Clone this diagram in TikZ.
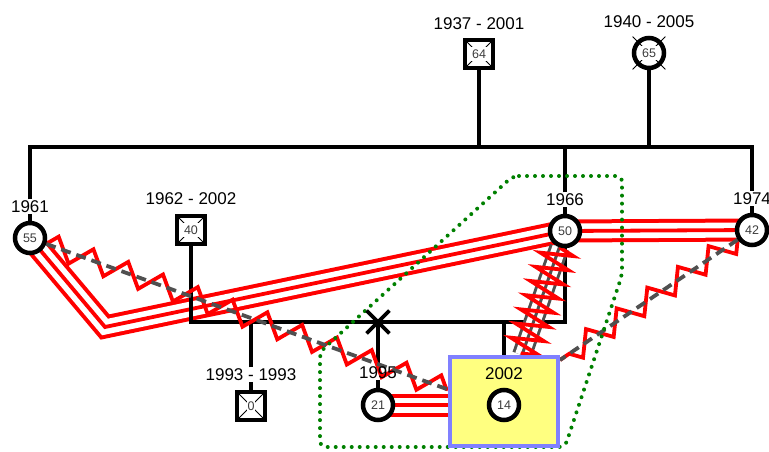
\documentclass[tikz,border=0pt]{standalone}
\usepackage{fontspec}
\setmainfont{Liberation Sans}
\usetikzlibrary{positioning}
\usetikzlibrary{decorations.pathmorphing}
\usetikzlibrary{shapes.misc}
\definecolor{hhgreen}{RGB}{0,128,0}
\definecolor{boxblue}{RGB}{128,128,255}
\definecolor{boxyellow}{RGB}{255,255,128}
\definecolor{relgray}{RGB}{80,80,80}
\definecolor{numgray}{RGB}{60,60,60}
\pgfdeclarelayer{bg}
\pgfsetlayers{bg,main}
\newcommand{\agebox}[2][3pt]{{\setlength{\fboxsep}{#1}\colorbox{white}{#2}}}

\begin{document}
\begin{tikzpicture}[x=1pt,y=-1pt,
  fam/.style={line width=4.5pt},
  male/.style={draw, line width=4.5pt, fill=white, minimum size=28pt, inner sep=0pt, font=\fontsize{12.5}{14}\selectfont, text=numgray},
  female/.style={male, circle, minimum size=30pt},
  dead/.style={path picture={\draw[line width=0.8pt] (path picture bounding box.north west) -- (path picture bounding box.south east) (path picture bounding box.north east) -- (path picture bounding box.south west);}},
  yr/.style={inner sep=1pt, font=\fontsize{17}{20}\selectfont},
  fused/.style={draw=red, line width=23pt, postaction={draw=white, line width=15pt}, postaction={draw=red, line width=3.8pt}},
  hostile/.style={draw=relgray, line width=3.8pt, dash pattern=on 10pt off 6pt, preaction={draw=red, line width=3.8pt, solid, decorate, decoration={zigzag, segment length=37pt, amplitude=11pt}}},
  fusedhostile/.style={draw=relgray, line width=20pt, postaction={draw=white, line width=14pt}, postaction={draw=relgray, line width=3pt}, postaction={draw=red, line width=3.8pt, decorate, decoration={zigzag, segment length=15pt, amplitude=16pt}}},
  household/.style={draw=hhgreen, line width=4pt, line cap=round, dash pattern=on 0pt off 8pt, rounded corners=6pt},
  kidbox/.style={draw=boxblue, fill=boxyellow, line width=4pt, minimum width=108pt, minimum height=89pt}]
\useasboundingbox (0,0) rectangle (769,452);

\node[male, dead] (m64) at (479,54) {\agebox{64}};
\node[female, dead] (f65) at (649,53) {\agebox{65}};
\node[female] (c55) at (30,238) {55};
\node[male, dead] (m40) at (191,230) {\agebox{40}};
\node[female] (c50) at (565,231) {50};
\node[female] (c42) at (752,230) {42};
\node[male, dead] (m93) at (251,406) {\agebox[1pt]{0}};
\node[female] (c21) at (378,405) {21};
\node[kidbox] (kid) at (504,401.5) {};
\node[female] (c14) at (504,405) {14};

\node[yr, above=7pt of m64] (l37) {1937 - 2001};
\node[yr, above=7pt of f65] (l40) {1940 - 2005};
\node[yr, above=7pt of c55] (l61) {1961};
\node[yr, above=8pt of m40] (l62) {1962 - 2002};
\node[yr, above=7pt of c50] (l66) {1966};
\node[yr, above=7pt of c42] (l74) {1974};
\node[yr, above=8pt of m93] (l93) {1993 - 1993};
\node[yr, above=8pt of c21] (l95) {1995};
\node[yr, above=7pt of c14] (l02) {2002};
\node[draw, cross out, line width=3.8pt, minimum size=19pt] (sep) at (378,322) {};
\coordinate (sib) at (0,147);

\begin{pgfonlayer}{bg}
\draw[fused] (c55.center) -- (105,327) -- (c50.center);
\draw[fused] (c50.center) -- (c42.center);
\draw[fused] (c21.center) -- (c21.center -| kid.west);

\draw[fam] (m64) -- (m64 |- sib);
\draw[fam] (f65) -- (f65 |- sib);
\draw[fam] (l61.north) |- (sib -| l74.north) -- (l74.north);
\draw[fam] (l66.north) -- (l66.north |- sib);
\draw[fam] (m40.south) |- (sep.center) -| (c50.south);
\draw[fam] (l93.north) -- (l93.north |- sep.center);
\draw[fam] (l95.north) -- (sep.center);
\draw[fam] (kid.north) -- (kid.north |- sep.center);
\draw[fam] (c55) -- (l61);
\draw[fam] (c50) -- (l66);
\draw[fam] (c42) -- (l74);
\draw[fam] (m93) -- (l93);
\draw[fam] (c21) -- (l95);
\foreach \a in {45,135,225,315}
  \draw[line width=0.8pt] (f65.\a) -- ++(\a:6pt);

\draw[hostile] (c55) -- ([yshift=12pt]kid.west);
\draw[hostile] (c42) -- ([yshift=-5pt]kid.north east);
\draw[fusedhostile] (c50) -- ([xshift=18pt]kid.north);

\draw[household] (513,176) -- (622,176) -- (622,275) -- (565,447) -- (320,447) -- (320,352) -- cycle;
\end{pgfonlayer}
\end{tikzpicture}
\end{document}
